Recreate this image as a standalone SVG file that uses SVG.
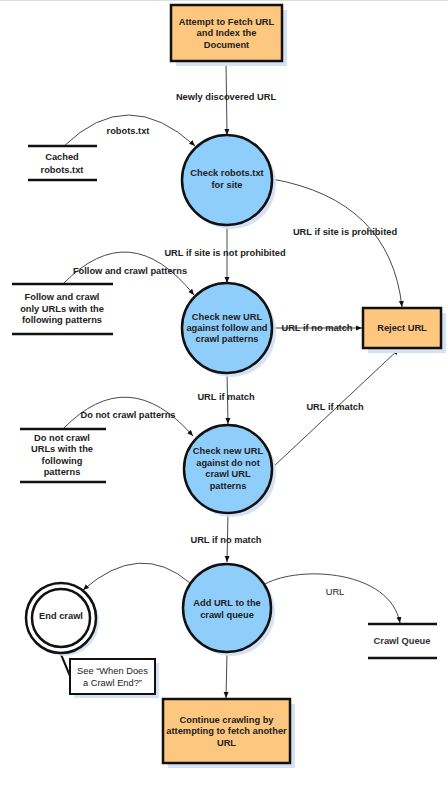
<svg xmlns="http://www.w3.org/2000/svg" width="448" height="790" viewBox="0 0 448 790">
<style>
  .box{fill:#fec77f;stroke:#111;stroke-width:2.5}
  .proc{fill:#8fcdfb;stroke:#111;stroke-width:2.5}
  .shadow{fill:#d6e1f2;stroke:none}
  .store{stroke:#111;stroke-width:2.5}
  .edge{fill:none;stroke:#333;stroke-width:0.9}
  text{font-family:"Liberation Sans",Arial,sans-serif;font-size:9.3px;fill:#222;text-anchor:middle;dominant-baseline:central}
  .b{font-weight:bold}
</style>
<defs>
  <marker id="arr" markerWidth="6" markerHeight="6" refX="6" refY="3" orient="auto" markerUnits="userSpaceOnUse">
    <path d="M0,0.5 L6,3 L0,5.5 Z" fill="#111"/>
  </marker>
</defs>
<rect x="0" y="0" width="448" height="790" fill="#fff"/>
<line x1="0" y1="0.5" x2="448" y2="0.5" stroke="#ddd" stroke-width="1"/>

<g id="connectors">
  <path class="edge" d="M226,62 L227,135" marker-end="url(#arr)"/>
  <path class="edge" d="M64,146 Q128,84 195,146" marker-end="url(#arr)"/>
  <path class="edge" d="M227,225 L227,283" marker-end="url(#arr)"/>
  <path class="edge" d="M63,284 Q130,215 194,295" marker-end="url(#arr)"/>
  <path class="edge" d="M272,328 L362,328" marker-end="url(#arr)"/>
  <path class="edge" d="M272,179 Q390,200 402,307" marker-end="url(#arr)"/>
  <path class="edge" d="M227,373 L228,424" marker-end="url(#arr)"/>
  <path class="edge" d="M63,429 Q128,362 193,436" marker-end="url(#arr)"/>
  <path class="edge" d="M273,467 L399,349" marker-end="url(#arr)"/>
  <path class="edge" d="M228,513 L227,562" marker-end="url(#arr)"/>
  <path class="edge" d="M190,583 Q140,540 83,590" marker-end="url(#arr)"/>
  <path class="edge" d="M265,584 C300,565 390,570 400,623" marker-end="url(#arr)"/>
  <path class="edge" d="M227,652 L226,698" marker-end="url(#arr)"/>
  <line x1="60" y1="652" x2="70" y2="676" stroke="#111" stroke-width="2"/>
  <text class="b" x="226" y="97">Newly discovered URL</text>
  <text class="b" x="128" y="131">robots.txt</text>
  <text class="b" x="345" y="232">URL if site is prohibited</text>
  <text class="b" x="225" y="253">URL if site is not prohibited</text>
  <text class="b" x="130" y="271">Follow and crawl patterns</text>
  <text class="b" x="317" y="328">URL if no match</text>
  <text class="b" x="226" y="397">URL if match</text>
  <text class="b" x="335" y="407">URL if match</text>
  <text class="b" x="128" y="415">Do not crawl patterns</text>
  <text class="b" x="226" y="540">URL if no match</text>
  <text x="335" y="592">URL</text>
</g>

<g id="fetch">
  <rect class="shadow" x="176" y="10" width="111" height="56"/>
  <rect class="box" x="171" y="5" width="111" height="56"/>
  <text class="b" x="226.5" y="21.5">Attempt to Fetch URL</text>
  <text class="b" x="226.5" y="33">and Index the</text>
  <text class="b" x="226.5" y="44.5">Document</text>
</g>

<g id="cached">
  <line class="store" x1="28" y1="146" x2="97" y2="146"/>
  <line class="store" x1="28" y1="180" x2="97" y2="180"/>
  <text class="b" x="62" y="157">Cached</text>
  <text class="b" x="62" y="169.5">robots.txt</text>
</g>

<g id="check-robots">
  <circle class="shadow" cx="231" cy="184" r="45"/>
  <circle class="proc" cx="227" cy="180" r="45"/>
  <text class="b" x="227" y="173">Check robots.txt</text>
  <text class="b" x="227" y="184.5">for site</text>
</g>

<g id="follow-store">
  <line class="store" x1="12" y1="284" x2="113" y2="284"/>
  <line class="store" x1="12" y1="334" x2="113" y2="334"/>
  <text class="b" x="62" y="297">Follow and crawl</text>
  <text class="b" x="62" y="308.5">only URLs with the</text>
  <text class="b" x="62" y="320">following patterns</text>
</g>

<g id="check-follow">
  <circle class="shadow" cx="231" cy="332" r="45"/>
  <circle class="proc" cx="227" cy="328" r="45"/>
  <text class="b" x="227" y="317">Check new URL</text>
  <text class="b" x="227" y="328">against follow and</text>
  <text class="b" x="227" y="339">crawl patterns</text>
</g>

<g id="reject">
  <rect class="shadow" x="368" y="313" width="78" height="40"/>
  <rect class="box" x="363" y="308" width="78" height="40"/>
  <text class="b" x="402" y="328">Reject URL</text>
</g>

<g id="donot-store">
  <line class="store" x1="20" y1="429" x2="106" y2="429"/>
  <line class="store" x1="20" y1="482" x2="106" y2="482"/>
  <text class="b" x="62" y="437.5">Do not crawl</text>
  <text class="b" x="62" y="449">URLs with the</text>
  <text class="b" x="62" y="460.5">following</text>
  <text class="b" x="62" y="472">patterns</text>
</g>

<g id="check-donot">
  <circle class="shadow" cx="232" cy="473" r="44"/>
  <circle class="proc" cx="228" cy="469" r="44"/>
  <text class="b" x="228" y="451">Check new URL</text>
  <text class="b" x="228" y="462.5">against do not</text>
  <text class="b" x="228" y="474">crawl URL</text>
  <text class="b" x="228" y="485.5">patterns</text>
</g>

<g id="add-queue">
  <circle class="shadow" cx="231" cy="612" r="44"/>
  <circle class="proc" cx="227" cy="608" r="44"/>
  <text class="b" x="227" y="603">Add URL to the</text>
  <text class="b" x="227" y="614.5">crawl queue</text>
</g>

<g id="end-crawl">
  <circle class="shadow" cx="64" cy="621" r="35"/>
  <circle cx="61" cy="618" r="35" fill="#fff" stroke="#111" stroke-width="2.5"/>
  <circle cx="61" cy="618" r="29" fill="#fff" stroke="#111" stroke-width="2.5"/>
  <text class="b" x="61" y="616">End crawl</text>
</g>

<g id="callout">
  <rect class="shadow" x="74" y="663" width="85" height="35"/>
  <rect x="70" y="659" width="85" height="35" fill="#fff" stroke="#111" stroke-width="2"/>
  <text x="112.5" y="671">See “When Does</text>
  <text x="112.5" y="682.5">a Crawl End?”</text>
</g>

<g id="crawl-queue">
  <line class="store" x1="368" y1="624" x2="437" y2="624"/>
  <line class="store" x1="368" y1="658" x2="437" y2="658"/>
  <text class="b" x="402" y="641" style="fill:#333">Crawl Queue</text>
</g>

<g id="continue">
  <rect class="shadow" x="168" y="704" width="127" height="64"/>
  <rect class="box" x="163" y="699" width="127" height="64"/>
  <text class="b" x="226.5" y="719.5">Continue crawling by</text>
  <text class="b" x="226.5" y="731">attempting to fetch another</text>
  <text class="b" x="226.5" y="742.5">URL</text>
</g>
</svg>
